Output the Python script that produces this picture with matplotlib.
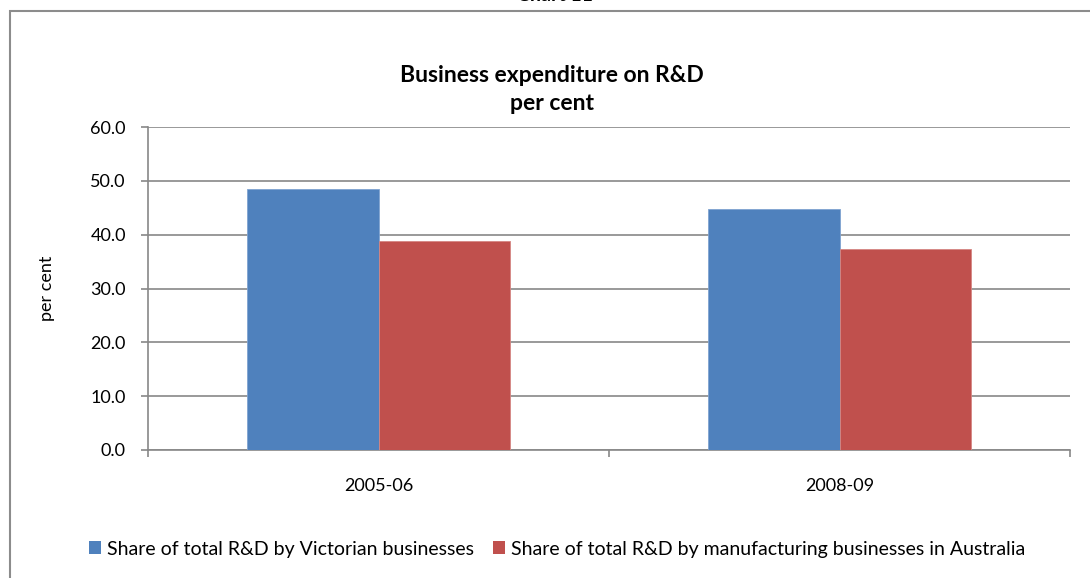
import matplotlib
matplotlib.use("Agg")
import matplotlib.pyplot as plt
from matplotlib.patches import Rectangle, Patch
import numpy as np

plt.rcParams['font.family'] = ['Lato', 'DejaVu Sans']

categories = ["2005-06", "2008-09"]
victorian_share = [48.5, 44.8]
manufacturing_share = [38.8, 37.4]
series_names = ["Share of total R&D by Victorian businesses",
                "Share of total R&D by manufacturing businesses in Australia"]
y_ticks = [0, 10, 20, 30, 40, 50, 60]

blue = "#4F81BD"
red = "#C0504D"
grey = "#888888"

W, H = 1090, 578
fig = plt.figure(figsize=(W / 100, H / 100), dpi=100)

# outer chart frame (only its top and left edges fall inside the image)
fig.patches.append(Rectangle((10 / W, -0.1), 1.2, 0.1 + (H - 11) / H,
                             transform=fig.transFigure, fill=False,
                             edgecolor="#8c8c8c", linewidth=1.5))
fig.text(555 / W, 1 - (-4) / H, "Chart 11", ha="center", va="center",
         fontsize=14, fontweight="bold")

ax = fig.add_axes([148 / W, 1 - 450 / H, (1070 - 148) / W, (450 - 127) / H])

x = np.arange(len(categories))
bw = 0.285
ax.bar(x - bw / 2, victorian_share, bw, color=blue, edgecolor="#7fa3d0",
       linewidth=0.6, zorder=3)
ax.bar(x + bw / 2, manufacturing_share, bw, color=red, edgecolor="#d58683",
       linewidth=0.6, zorder=3)

ax.set_xlim(-0.5, len(categories) - 0.5)
ax.set_ylim(0, 60)
ax.set_yticks(y_ticks)
ax.set_yticklabels([f"{v:.1f}" for v in y_ticks], fontsize=13)
ax.yaxis.grid(True, color=grey, linewidth=1.2, zorder=0)
ax.set_axisbelow(True)

ax.set_xticks(x)
ax.set_xticklabels(categories, fontsize=13)
ax.tick_params(axis="x", which="major", length=0, pad=20)
ax.set_xticks(np.arange(-0.5, len(categories), 1.0), minor=True)
ax.tick_params(axis="x", which="minor", length=5, color=grey, width=1.2)
ax.tick_params(axis="y", length=5, color=grey, width=1.2, pad=11)

for s in ["top", "right"]:
    ax.spines[s].set_visible(False)
for s in ["left", "bottom"]:
    ax.spines[s].set_color(grey)
    ax.spines[s].set_linewidth(1.2)

ax.set_ylabel("per cent", fontsize=13)
ax.yaxis.set_label_coords((55 - 148) / (1070 - 148), 0.5)

fig.text(552 / W, 1 - 75 / H, "Business expenditure on R&D",
         ha="center", va="center", fontsize=16.5, fontweight="bold")
fig.text(552 / W, 1 - 104 / H, "per cent",
         ha="center", va="center", fontsize=16.5, fontweight="bold")

handles = [Patch(facecolor=blue), Patch(facecolor=red)]
fig.legend(handles, series_names, loc="center", ncol=2,
           bbox_to_anchor=(557 / W, 1 - 549 / H), frameon=False,
           fontsize=14, handlelength=0.6, handleheight=0.6,
           handletextpad=0.3, columnspacing=1.0)

fig.savefig("out.png", dpi=100)
